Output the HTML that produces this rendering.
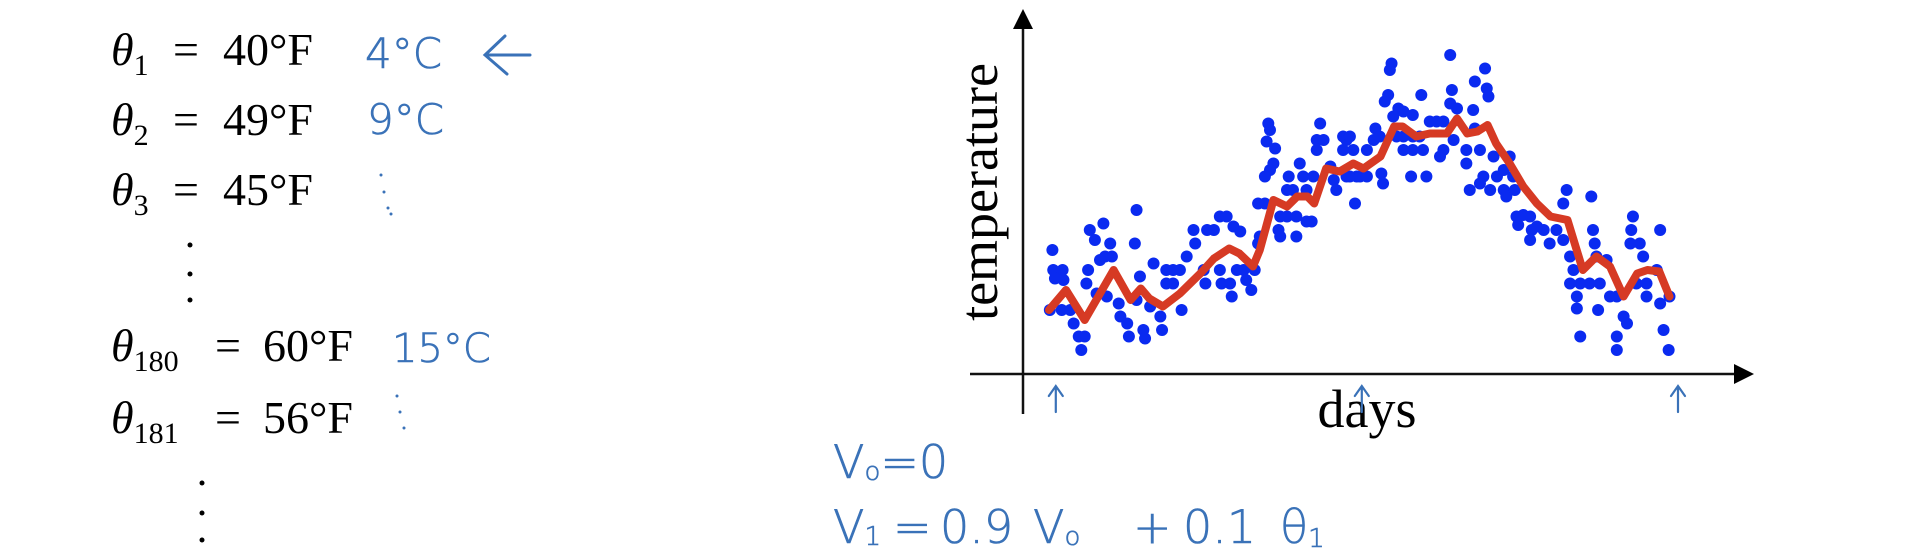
<!DOCTYPE html>
<html><head><meta charset="utf-8"><style>
html,body{margin:0;padding:0;background:#fff;}
svg{display:block;}
.m{font-family:"Liberation Serif",serif;fill:#000;}
.hw{font-family:"DejaVu Sans","Liberation Sans",sans-serif;fill:#3a72b8;font-weight:300;stroke:#3a72b8;stroke-width:0.6;}
</style></head><body>
<svg id="root" width="1920" height="550" viewBox="0 0 1920 550" xmlns="http://www.w3.org/2000/svg">
<g>
  <text class="m" x="111" y="65" font-size="46"><tspan font-style="italic">θ</tspan><tspan font-size="30" dy="10">1</tspan><tspan x="173" dy="-10">=</tspan><tspan x="223">40°F</tspan></text>
  <text class="m" x="111" y="135" font-size="46"><tspan font-style="italic">θ</tspan><tspan font-size="30" dy="10">2</tspan><tspan x="173" dy="-10">=</tspan><tspan x="223">49°F</tspan></text>
  <text class="m" x="111" y="205" font-size="46"><tspan font-style="italic">θ</tspan><tspan font-size="30" dy="10">3</tspan><tspan x="173" dy="-10">=</tspan><tspan x="223">45°F</tspan></text>
  <g fill="#000"><circle cx="190" cy="245" r="2.5"/><circle cx="190" cy="274" r="2.5"/><circle cx="190" cy="300" r="2.5"/></g>
  <text class="m" x="111" y="361" font-size="46"><tspan font-style="italic">θ</tspan><tspan font-size="30" dy="10">180</tspan><tspan x="215" dy="-10">=</tspan><tspan x="263">60°F</tspan></text>
  <text class="m" x="111" y="433" font-size="46"><tspan font-style="italic">θ</tspan><tspan font-size="30" dy="10">181</tspan><tspan x="215" dy="-10">=</tspan><tspan x="263">56°F</tspan></text>
  <g fill="#000"><circle cx="202" cy="483" r="2.5"/><circle cx="202" cy="513" r="2.5"/><circle cx="202" cy="540" r="2.5"/></g>
</g>
<g>
  <text class="hw" x="365" y="68" font-size="42">4°C</text>
  <path d="M530 55 L486 55 M505 36 L485 55 L507 74" stroke="#3a72b8" stroke-width="3" fill="none" stroke-linecap="round"/>
  <text class="hw" x="367" y="134" font-size="42">9°C</text>
  <g fill="#3a72b8"><circle cx="381" cy="175" r="1.5"/><circle cx="384" cy="192" r="1.5"/><circle cx="388" cy="208" r="1.5"/><circle cx="391" cy="214" r="1.5"/></g>
  <text class="hw" x="392" y="362" font-size="40">15°C</text>
  <g fill="#3a72b8"><circle cx="397" cy="396" r="1.5"/><circle cx="400" cy="412" r="1.5"/><circle cx="404" cy="428" r="1.5"/></g>
  <text class="hw" x="833" y="478" font-size="46">V<tspan font-size="26" dy="2">o</tspan><tspan dy="-2">=0</tspan></text>
  <text class="hw" y="543" font-size="46"><tspan x="833">V</tspan><tspan font-size="26" dy="2">1</tspan><tspan x="893" dy="-2">=</tspan><tspan x="940">0.9</tspan><tspan x="1033">V</tspan><tspan font-size="26" dy="2">o</tspan><tspan x="1133" dy="-2">+</tspan><tspan x="1183">0.1</tspan><tspan x="1280">θ</tspan><tspan font-size="26" dy="4">1</tspan></text>
</g>
<g id="chart"></g>
</svg>
<script>
const redDays=[0,10,21,38,48,54,59,67,77,89,97,106,112,120,124,132,140,146,152,156,163,171,179,185,195,203,208,216,224,234,240,246,252,258,263,271,279,287,295,305,314,322,330,338,346,352,359,365];
const redTemps=[40,44,38,48,42,44.3,42.3,40.7,43.3,47.3,50.3,52.3,51.3,48.7,52,62,60.7,62.7,62.7,61.3,68.3,67.7,69.3,68.3,70.7,76.7,76.7,74.7,75.3,75.3,78.3,75.3,75.7,77,73.3,69.3,64.7,61.3,58.7,58,48,50.7,48.7,42.7,47.3,48,47.7,42.7];
const dotDays=[2,2.5,8,3.5,8.5,0.5,7.5,12.5,14.5,17.5,21,19,24,27,32,36,23,30,33,37,22,28,34,41,42,46,47,51.5,50.5,53.5,51.5,55.5,56.5,61.5,59.5,65.5,66.5,69,73,77,69,73,78,81,85,86,91,92,93,97,100.5,104.5,108.5,112.5,100.5,101.5,106.5,107.5,110.5,114.5,116,119,121,123,124,123,127,129,130,128,133,132,130,127,141,147.5,140,143.5,149.5,155.5,151.5,136,140,145.5,151.5,154.5,135,136,145.5,159.5,157.5,161.5,173,175,157.5,173,179,165.5,167.5,169,175,181,180,
177,177,183,187,187,192,191,194.5,195.5,196.5,201.5,200.5,199.5,197.5,205.5,208.5,214,202.5,204.5,208.5,214,218,208.5,214,220,213,222,219,224,228,232,232,230,236,237,236,240,238,245.5,245.5,249.5,250.5,256.5,257.5,258.5,250.5,253.5,247.5,255.5,253.5,259.5,263.5,261.5,267.5,267.5,271,273,269,274,275,279,283,276,284,283,291,294.5,287,298.5,302.5,304.5,302.5,306.5,308.5,306.5,312.5,318,324,310.5,310.5,312.5,319,320,321,322,328,323,330,334,338,340,334,334,343.5,342.5,342,347.5,349.5,345.5,351.5,357.5,359.5,351.5,359.5,361.5,364.5,365];
const dotTemps=[52,48,48,46.3,46,40,40,40,37.3,34.7,34.7,32,56,54,57.3,53.3,48,50,50.7,50.7,45.3,43.3,42.7,41.3,38.7,37.3,34.7,60,53.3,46.7,42,36,34.3,49.3,40.7,38.7,36,48,48,48,45.3,45.3,40,50.7,56,53.3,48,45.3,56,56,58.7,58.7,56.7,55.7,48,45.3,45.3,42.7,48,48,46,44,48,53.3,54.7,61.3,61.3,77.3,76,73.7,72.3,69.3,68,66.7,66.7,69.3,64,64,66.7,66.7,64,58.7,58.7,58.7,57.7,57.7,56,54.7,54.7,77.3,74,74,74.7,74,72,72,72,68.7,66,64,66.7,66.7,61.3,
74.7,66.7,66.7,66.7,72,76.3,74,74.7,67.3,65.3,89.3,88,83,81.7,80.3,79.7,79,78.7,74.7,74.7,74.7,74.7,72,72,72,66.7,66.7,83,77.7,77.7,77.7,72,70.7,91,84,81.3,80.3,74,72,69.3,80,85.7,88.3,84.3,82.7,76.3,72,64,66.7,65.3,64,66.7,70.7,68,64,70.7,66.7,62.7,64,58.7,59,58.7,57,56,54,56,53.3,56.7,56,61.3,64,54,50.7,48,45.3,45.3,45.3,45.3,42.7,40.3,34.7,62.7,56,53.3,50.7,50,40,42.7,42.7,38.7,37.3,34.7,32,58.7,56,53.3,53.3,50.7,45.3,45.3,48,56,42.7,41.3,36,32,42.7];

const NS='http://www.w3.org/2000/svg';
const chart=document.getElementById('chart');
const xScale=d=>1049+d*1.7;
const yScale=t=>375-(t-27)*5;
function mk(tag,attrs,parent){const e=document.createElementNS(NS,tag);for(const k in attrs)e.setAttribute(k,attrs[k]);(parent||chart).appendChild(e);return e;}

let ax=mk('line',{x1:970,y1:374,x2:1740,y2:374,stroke:'#111','stroke-width':2.5});


let axh=mk('polygon',{points:'1754,374 1734,364 1734,384',fill:'#000'});


let ay=mk('line',{x1:1023,y1:24,x2:1023,y2:414,stroke:'#111','stroke-width':2.5});


let ayh=mk('polygon',{points:'1023,9 1013,29 1033,29',fill:'#000'});



let yt=mk('text',{x:0,y:0,'font-size':54,'text-anchor':'middle','font-family':'"Liberation Serif",serif',fill:'#000',transform:'translate(997,192) rotate(-90)'});
yt.textContent='temperature';


let xt=mk('text',{x:1367,y:427,'font-size':54,'text-anchor':'middle','font-family':'"Liberation Serif",serif',fill:'#000'});
xt.textContent='days';



const markDays=[4,184,370];
markDays.forEach((d,i)=>{
  const x=xScale(d);
  const p=mk('path',{d:`M${x} 412 L${x} 388 M${x-7} 396 L${x} 386 L${x+7} 396`,stroke:'#3a72b8','stroke-width':2.2,fill:'none','stroke-linecap':'round'});
  
  
});

const dg=mk('g',{fill:'#0a2af0'});


for(let i=0;i<dotDays.length;i++){
  const c=mk('circle',{cx:xScale(dotDays[i]),cy:yScale(dotTemps[i]),r:6},dg);
  
  
}
const pts=redDays.map((d,i)=>xScale(d).toFixed(1)+','+yScale(redTemps[i]).toFixed(1)).join(' ');
const rl=mk('polyline',{points:pts,fill:'none',stroke:'#d63a24','stroke-width':8,'stroke-linejoin':'round','stroke-linecap':'round'});


</script>
</body></html>
